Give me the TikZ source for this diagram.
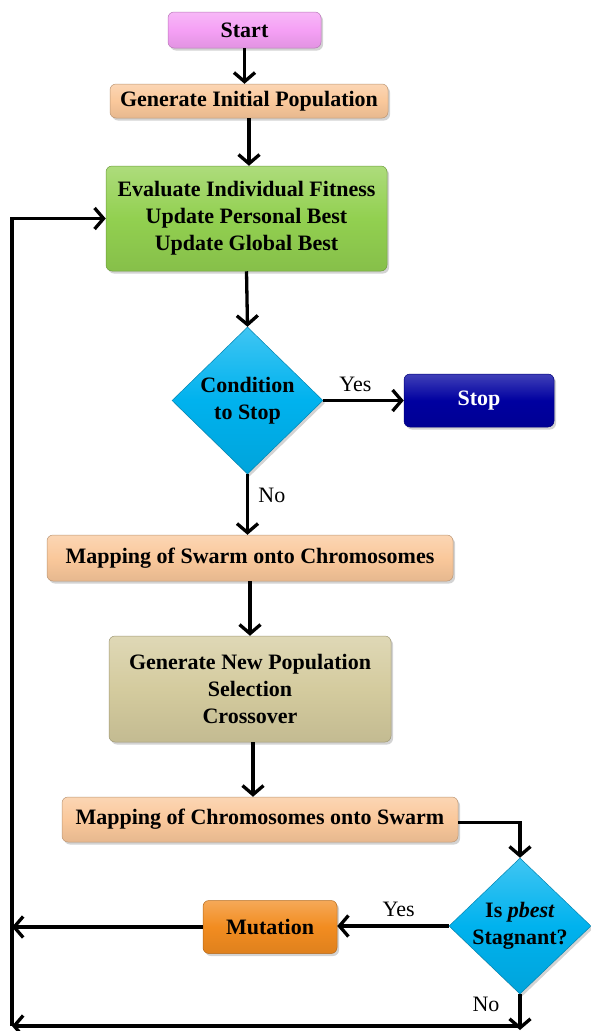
\documentclass[tikz,border=0pt]{standalone}
\usepackage{fontspec}
\setmainfont{Liberation Serif}
\usetikzlibrary{arrows.meta,shapes.geometric,shadows}
\definecolor{startc}{RGB}{245,160,245}
\definecolor{peach}{RGB}{250,200,155}
\definecolor{greenc}{RGB}{146,208,80}
\definecolor{cyanc}{RGB}{0,178,238}
\definecolor{stopc}{RGB}{0,0,160}
\definecolor{khaki}{RGB}{212,203,158}
\definecolor{mutc}{RGB}{242,140,32}
\begin{document}
\begin{tikzpicture}[x=1pt,y=-1pt,
  txt/.style={font=\fontsize{22}{27}\selectfont\bfseries, align=center},
  box/.style={txt, rectangle, rounded corners=6pt, draw=#1!75!black, line width=0.5pt,
    top color=#1!75!white, bottom color=#1!92!black, middle color=#1,
    drop shadow={shadow xshift=2pt, shadow yshift=-2.5pt, opacity=0.35},
    inner sep=0pt},
  dia/.style={diamond, draw=#1!75!black, line width=0.5pt,
    top color=#1!75!white, bottom color=#1!92!black, middle color=#1,
    drop shadow={shadow xshift=2pt, shadow yshift=-2.5pt, opacity=0.35},
    inner sep=0pt},
  diatext/.style={txt},
  arr/.style={line width=3.3pt, -{Straight Barb[length=9pt,width=21pt]}},
  lin/.style={line width=3.3pt},
  lab/.style={font=\fontsize{22}{27}\selectfont}
]
\useasboundingbox (0,0) rectangle (590,1031);

\node[box=startc, minimum width=153pt, minimum height=36pt] (start) at (244.5,30) {Start};
\node[box=peach, minimum width=278pt, minimum height=34pt] (init) at (249,101) {Generate Initial Population};
\node[box=greenc, minimum width=281pt, minimum height=105pt] (green) at (246.5,218.5)
  {Evaluate Individual Fitness\\Update Personal Best\\Update Global Best};
\node[dia=cyanc, minimum width=151pt, minimum height=147pt] (d1) at (247.5,400.5) {};
\node[diatext] (d1t) at (d1) {Condition\\to Stop};
\node[box=stopc, minimum width=150pt, minimum height=53pt, text=white] (stop) at (479,400.5) {Stop};
\node[box=peach, minimum width=406pt, minimum height=46pt] (mapswarm) at (250,558) {Mapping of Swarm onto Chromosomes};
\node[box=khaki, minimum width=282pt, minimum height=106pt] (gennew) at (250,689)
  {Generate New Population\\Selection\\Crossover};
\node[box=peach, minimum width=396pt, minimum height=45pt] (mapchrom) at (260,819.5) {Mapping of Chromosomes onto Swarm};
\node[dia=cyanc, minimum width=142pt, minimum height=136pt] (d2) at (520,926) {};
\node[diatext] (d2t) at (d2) {Is \textit{pbest}\\Stagnant?};
\node[box=mutc, minimum width=134pt, minimum height=53pt] (mut) at (270,927) {Mutation};

\coordinate (lt) at (12,218.5);
\coordinate (lb) at (12,1026);

\draw[arr] (start) -- (start |- init.north);
\draw[arr] (init) -- (init |- green.north);
\draw[arr] (green.south) -- (d1.north);
\draw[arr] (d1.east) -- node[lab, above=4pt, pos=0.4] (yes1) {Yes} (stop.west);
\draw[arr] (d1.south) -- node[lab, right=6pt, pos=0.35] (no1) {No} (d1.south |- mapswarm.north);
\draw[arr] (mapswarm) -- (mapswarm |- gennew.north);
\draw[arr] ([xshift=3pt]gennew.south) -- ([xshift=3pt]gennew.south |- mapchrom.north);
\draw[arr] ([yshift=-3pt]mapchrom.east) -| (d2.north);
\draw[arr] (d2.west) -- node[lab, above=4pt, pos=0.45] (yes2) {Yes} (d2.west -| mut.east);
\draw[arr] (mut.west) -- (mut.west -| lt);
\draw[arr] (d2.south) -- ([yshift=-4pt]d2.south |- lb);
\node[lab, anchor=east] (no2) at (503,1004) {No};
\draw[arr] (d2.south |- lb) -- (lb);
\draw[lin] (lb) -- (lt);
\draw[arr] ([xshift=-1.65pt]lt) -- (green.west |- lt);
\end{tikzpicture}
\end{document}
